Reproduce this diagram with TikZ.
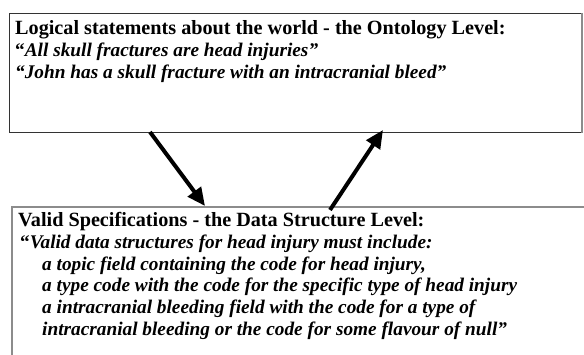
\documentclass[tikz,border=0pt]{standalone}
\usepackage{fontspec}
\setmainfont{Liberation Serif}
\usetikzlibrary{arrows.meta}
\begin{document}
\begin{tikzpicture}[x=1pt,y=-1pt,
  boxA/.style={draw=black!80, line width=1pt, inner sep=0pt, anchor=north west},
  boxB/.style={draw=black!45, line width=1.6pt, inner sep=0pt, anchor=north west},
  ttl/.style={anchor=base west, inner sep=0pt, font=\fontsize{20.2}{24}\selectfont\bfseries},
  itl/.style={anchor=base west, inner sep=0pt, font=\fontsize{19.3}{23}\selectfont\bfseries\itshape},
  bigarrow/.style={line width=4pt, -{Triangle[length=18pt,width=16pt]}}]
\clip (0,0) rectangle (584,355);
\fill[white] (0,0) rectangle (584,355);
\node[boxA, minimum width=572pt, minimum height=119pt] (top) at (9,13) {};
\draw[black!45, line width=1.8pt] (top.north east) -- (top.south east);
\node[boxB, minimum width=600pt, minimum height=200pt] (bot) at (11,206) {};
\node[ttl] (t1) at (15,35) {Logical statements about the world - the Ontology Level:};
\node[itl] (t2) at (15,57) {{\upshape “}All skull fractures are head injuries”};
\node[itl] (t3) at (15,79) {“John has a skull fracture with an intracranial bleed”};
\node[ttl] (b1) at (18,227) {Valid Specifications - the Data Structure Level:};
\node[itl] (b2) at (20,249) {{\upshape “}Valid data structures for head injury must include:};
\node[itl] (b3) at (42,271) {a topic field containing the code for head injury,};
\node[itl] (b4) at (42,292) {a type code with the code for the specific type of head injury};
\node[itl] (b5) at (42,314) {a intracranial bleeding field with the code for a type of};
\node[itl] (b6) at (42,336) {intracranial bleeding or the code for some flavour of null”};
\coordinate (a1s) at (150,132);
\coordinate (a1e) at (205,206);
\coordinate (a2s) at (330,210);
\coordinate (a2e) at (383,130);
\draw[bigarrow] (a1s) -- (a1e);
\draw[bigarrow] (a2s) -- (a2e);
\end{tikzpicture}
\end{document}
